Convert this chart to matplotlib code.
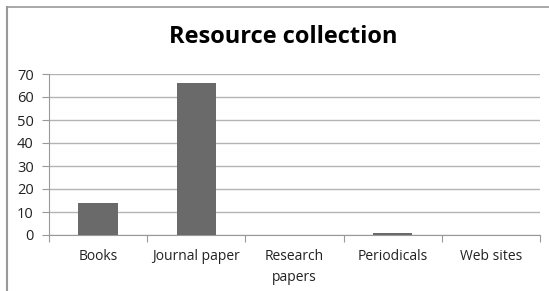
import matplotlib.pyplot as plt
from matplotlib.lines import Line2D

categories = ['Books', 'Journal paper', 'Research\npapers', 'Periodicals', 'Web sites']
counts = [14, 66, 0, 1, 0]
yticks = [0, 10, 20, 30, 40, 50, 60, 70]

plt.rcParams['font.family'] = ['Open Sans', 'DejaVu Sans']

fig = plt.figure(figsize=(5.49, 2.91), dpi=100)
ax = fig.add_axes([49/549, 56/291, 491/549, 161/291])

x = range(len(categories))
ax.bar(x, counts, width=0.4, color='#6a6a6a', zorder=3)

ax.set_xlim(-0.5, len(categories) - 0.5)
ax.set_ylim(0, 70)
ax.set_yticks(yticks)
ax.grid(axis='y', color='#b4b4b4', linewidth=1, zorder=0)

for s in ['top', 'right']:
    ax.spines[s].set_visible(False)
ax.spines['left'].set_color('#999999')
ax.spines['bottom'].set_color('#999999')

# category ticks sit between the bars
ax.set_xticks([i + 0.5 for i in range(-1, len(categories))])
ax.set_xticklabels([])
ax.tick_params(axis='x', length=5, color='#999999')
ax.set_xticks(list(x), minor=True)
ax.set_xticklabels(categories, minor=True, fontsize=10, color='#222222', linespacing=1.55)
ax.tick_params(axis='x', which='minor', length=0, pad=10)
ax.tick_params(axis='y', length=5, color='#999999', labelsize=10.5, labelcolor='#222222', pad=6)

fig.text(283/549, 1 - 37/291, 'Resource collection', ha='center', va='center',
         fontsize=17, fontweight='bold', color='black')

# outer frame of the chart box
fig.add_artist(Line2D([7/549, 1], [1 - 7/291, 1 - 7/291], color='#999999', linewidth=1.2))
fig.add_artist(Line2D([7/549, 7/549], [0, 1 - 7/291], color='#999999', linewidth=1.5))

fig.savefig('out.png', dpi=100)
